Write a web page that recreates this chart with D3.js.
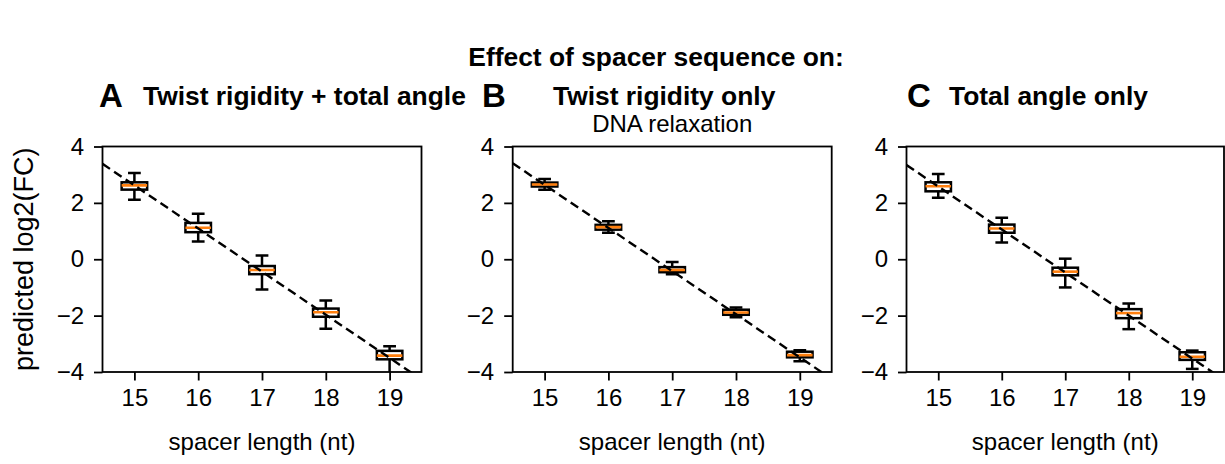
<!DOCTYPE html>
<html>
<head>
<meta charset="utf-8">
<script src="https://cdn.jsdelivr.net/npm/d3@7"></script>
<style>
  html, body { margin: 0; padding: 0; background: #fff; }
  svg { display: block; font-family: "Liberation Sans", Arial, sans-serif; }
</style>
</head>
<body>
<svg id="chart" width="1225" height="464"></svg>
<script>
// ---- data ----
const spacerLengths = [15, 16, 17, 18, 19];
const yTicks = [-4, -2, 0, 2, 4];

const panelLetters = ["A", "B", "C"];
const panelTitles = ["Twist rigidity + total angle", "Twist rigidity only", "Total angle only"];

// Panel A
const aWhiskHi = [3.06, 1.61, 0.13, -1.46, -3.09];
const aQ3      = [2.73, 1.29, -0.24, -1.75, -3.25];
const aMedian  = [2.62, 1.12, -0.38, -1.88, -3.42];
const aQ1      = [2.47, 0.96, -0.53, -2.04, -3.55];
const aWhiskLo = [2.11, 0.63, -1.07, -2.47, -4.10];
// Panel B
const bWhiskHi = [2.85, 1.35, -0.10, -1.71, -3.23];
const bQ3      = [2.72, 1.22, -0.28, -1.79, -3.28];
const bMedian  = [2.65, 1.14, -0.38, -1.89, -3.40];
const bQ1      = [2.58, 1.05, -0.46, -1.97, -3.48];
const bWhiskLo = [2.47, 0.94, -0.53, -2.06, -3.62];
// Panel C
const cWhiskHi = [3.02, 1.47, 0.02, -1.57, -3.24];
const cQ3      = [2.73, 1.23, -0.30, -1.77, -3.30];
const cMedian  = [2.59, 1.09, -0.44, -1.91, -3.46];
const cQ1      = [2.41, 0.94, -0.57, -2.09, -3.57];
const cWhiskLo = [2.18, 0.59, -1.00, -2.48, -3.89];

// dashed fit lines: value at x = 14.5 and x = 19.5
const fitX     = [14.5, 19.5];
const aFit     = [3.385, -4.265];
const bFit     = [3.405, -4.245];
const cFit     = [3.343, -4.283];

// ---- layout ----
const svg = d3.select("#chart");
const panels = [
  {left: 102.5, right: 421.5, lo: aWhiskLo, q1: aQ1, med: aMedian, q3: aQ3, hi: aWhiskHi, fit: aFit},
  {left: 512.7, right: 831.7, lo: bWhiskLo, q1: bQ1, med: bMedian, q3: bQ3, hi: bWhiskHi, fit: bFit},
  {left: 906.5, right: 1224.0, lo: cWhiskLo, q1: cQ1, med: cMedian, q3: cQ3, hi: cWhiskHi, fit: cFit}
];
const plotTop = 146.5, plotBottom = 372;
const tickFont = 24, labelFont = 24, titleFont = 26.4;

// suptitle
svg.append("text").attr("x", 656).attr("y", 66).attr("text-anchor", "middle")
  .attr("font-weight", "bold").attr("font-size", titleFont).text("Effect of spacer sequence on:");

const letterX = [99, 482, 907];
const titleX = [143, 553, 949];
panels.forEach((p, i) => {
  svg.append("text").attr("x", letterX[i]).attr("y", 107).attr("font-weight", "bold")
    .attr("font-size", 33).text(panelLetters[i]);
  svg.append("text").attr("x", titleX[i]).attr("y", 105).attr("font-weight", "bold")
    .attr("font-size", titleFont).text(panelTitles[i]);
});

svg.append("text").attr("x", (panels[1].left + panels[1].right) / 2).attr("y", 132)
  .attr("text-anchor", "middle").attr("font-size", 24).text("DNA relaxation");

// y label
svg.append("text").attr("transform", `translate(33,${(plotTop + plotBottom) / 2}) rotate(-90)`)
  .attr("text-anchor", "middle").attr("font-size", 27).text("predicted log2(FC)");

panels.forEach((p, i) => {
  const x = d3.scaleLinear().domain([14.5, 19.5]).range([p.left, p.right]);
  const y = d3.scaleLinear().domain([-4, 4]).range([plotBottom, plotTop]);
  const g = svg.append("g");
  const clipId = "clip" + i;
  svg.append("clipPath").attr("id", clipId).append("rect")
    .attr("x", p.left).attr("y", plotTop).attr("width", p.right - p.left).attr("height", plotBottom - plotTop);

  const plot = g.append("g").attr("clip-path", `url(#${clipId})`);

  const bw = 0.4, cw = 0.2, sw = 2.5;
  spacerLengths.forEach((s, k) => {
    const bx = plot.append("g");
    bx.append("line").attr("x1", x(s)).attr("x2", x(s)).attr("y1", y(p.q3[k])).attr("y2", y(p.hi[k]))
      .attr("stroke", "#000").attr("stroke-width", sw);
    bx.append("line").attr("x1", x(s)).attr("x2", x(s)).attr("y1", y(p.q1[k])).attr("y2", y(p.lo[k]))
      .attr("stroke", "#000").attr("stroke-width", sw);
    [p.hi[k], p.lo[k]].forEach(v => {
      bx.append("line").attr("x1", x(s - cw / 2)).attr("x2", x(s + cw / 2)).attr("y1", y(v)).attr("y2", y(v))
        .attr("stroke", "#000").attr("stroke-width", sw);
    });
    bx.append("rect").attr("x", x(s - bw / 2)).attr("width", x(s + bw / 2) - x(s - bw / 2))
      .attr("y", y(p.q3[k])).attr("height", y(p.q1[k]) - y(p.q3[k]))
      .attr("fill", "none").attr("stroke", "#000").attr("stroke-width", sw);
    bx.append("line").attr("x1", x(s - bw / 2)).attr("x2", x(s + bw / 2)).attr("y1", y(p.med[k])).attr("y2", y(p.med[k]))
      .attr("stroke", "#ff7f0e").attr("stroke-width", 2.6);
  });

  plot.append("path")
    .datum(fitX.map((fx, j) => [fx, p.fit[j]]))
    .attr("d", d3.line().x(d => x(d[0])).y(d => y(d[1])))
    .attr("fill", "none").attr("stroke", "#000").attr("stroke-width", 2.4)
    .attr("stroke-dasharray", "9,5");

  const xAxis = d3.axisBottom(x).tickValues(spacerLengths).tickSize(8.5).tickPadding(8).tickFormat(d3.format("d"));
  const gx = g.append("g").attr("transform", `translate(0,${plotBottom})`).call(xAxis);
  gx.select(".domain").remove();
  gx.selectAll(".tick line").attr("stroke", "#000").attr("stroke-width", 1.8);
  gx.selectAll(".tick text").attr("font-size", tickFont).attr("font-family", "Liberation Sans, Arial, sans-serif").attr("fill", "#000");

  const yAxis = d3.axisLeft(y).tickValues(yTicks).tickSize(8.5).tickPadding(10)
    .tickFormat(d => d < 0 ? "\u2212" + Math.abs(d) : String(d));
  const gy = g.append("g").attr("transform", `translate(${p.left},0)`).call(yAxis);
  gy.select(".domain").remove();
  gy.selectAll(".tick line").attr("stroke", "#000").attr("stroke-width", 1.8);
  gy.selectAll(".tick text").attr("font-size", tickFont).attr("font-family", "Liberation Sans, Arial, sans-serif").attr("fill", "#000");

  g.append("rect").attr("x", p.left).attr("y", plotTop).attr("width", p.right - p.left).attr("height", plotBottom - plotTop)
    .attr("fill", "none").attr("stroke", "#000").attr("stroke-width", 1.8);

  svg.append("text").attr("x", (p.left + p.right) / 2).attr("y", 450).attr("text-anchor", "middle")
    .attr("font-size", labelFont).text("spacer length (nt)");
});
</script>
</body>
</html>
